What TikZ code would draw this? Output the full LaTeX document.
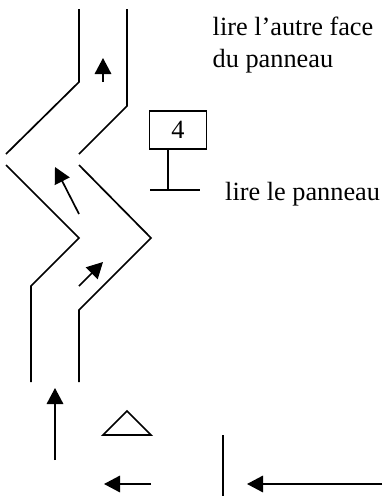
\documentclass[tikz,border=0pt]{standalone}
\usepackage{fontspec}
\setmainfont{Liberation Serif}
\usetikzlibrary{arrows.meta}
\tikzset{
  road/.style={line width=1.7pt,line join=miter},
  flow/.style={line width=1.7pt,-{Triangle[length=16pt,width=16.5pt]}},
  lbl/.style={inner sep=0pt,anchor=base west,font=\fontsize{26.3pt}{26.3pt}\selectfont},
}
\begin{document}
\begin{tikzpicture}[x=1pt,y=-1pt]
\useasboundingbox (0,0) rectangle (383,496);
\draw[road] (79,9) -- (79,82) -- (6,154);
\draw[road] (127,9) -- (127,106) -- (79,154);
\draw[road] (6,165) -- (79,238) -- (31,286) -- (31,382);
\draw[road] (79,165) -- (151,238) -- (79,310) -- (79,382);
\draw[flow] (103,82) -- (103,58);
\draw[flow] (79,214) -- (55,167);
\draw[flow] (79,286) -- (103,262);
\draw[flow] (55,460) -- (55,388);
\draw[road] (103,435) -- (127,411) -- (151,435) -- cycle;
\draw[flow] (151,484) -- (104,484);
\draw[road] (223,435) -- (223,496);
\draw[flow] (382,484) -- (247,484);
\node[draw,line width=1.7pt,minimum width=57pt,minimum height=38pt,inner sep=0pt,font=\fontsize{26.3pt}{26.3pt}\selectfont] (sign) at (178,130) {4};
\coordinate (stem) at (168,190);
\draw[road] (168,149) -- (stem);
\coordinate (baseL) at (150,190);
\coordinate (baseR) at (200,190);
\draw[road] (baseL) -- (baseR);
\node[lbl] (t1) at (212.5,35.5) {lire l’autre face};
\node[lbl] (t2) at (212.5,67) {du panneau};
\node[lbl] (t3) at (225,200) {lire le panneau};
\end{tikzpicture}
\end{document}
